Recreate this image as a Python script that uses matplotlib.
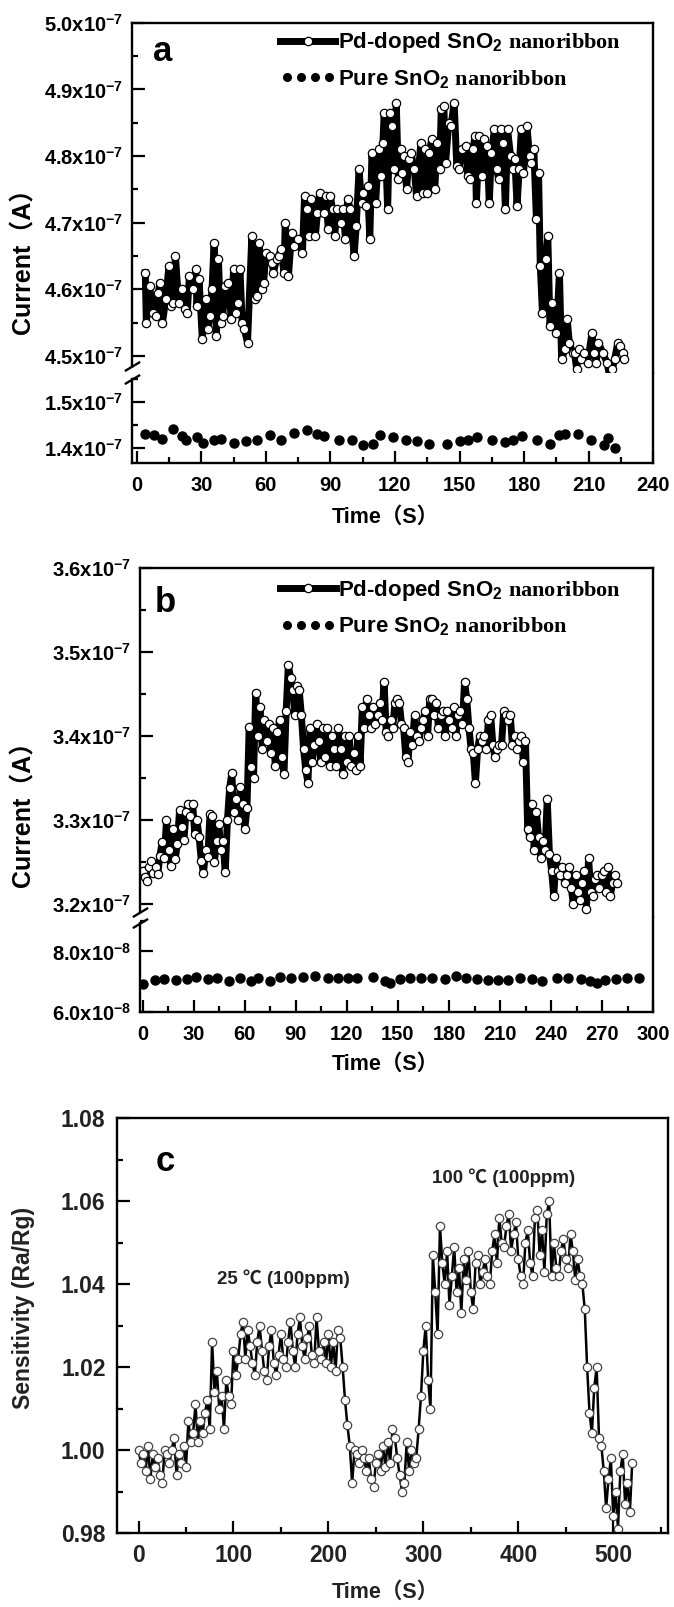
import numpy as np
import matplotlib.pyplot as plt
from matplotlib.ticker import MultipleLocator, FuncFormatter
from matplotlib.legend_handler import HandlerLine2D

plt.rcParams["font.family"] = ["Liberation Sans", "Noto Sans CJK SC"]
plt.rcParams["font.weight"] = "bold"
plt.rcParams["mathtext.fontset"] = "custom"
plt.rcParams["mathtext.rm"] = "Liberation Sans:bold"
plt.rcParams["mathtext.bf"] = "Liberation Sans:bold"
plt.rcParams["mathtext.it"] = "Liberation Serif:bold"

# ---------------- data (current in units of 1e-7 A, or 1e-8 A for pure b) ----------------
# panel a : Pd-doped SnO2 nanoribbon
a_pd_time = [4.0, 4.5, 6.0, 7.5, 9.0, 10.0, 11.0, 12.0, 13.5, 15.0, 16.0, 17.0, 18.0, 19.5, 21.0,
             22.5, 23.5, 24.5, 26.0, 27.5, 28.0, 29.0, 30.5, 32.0, 33.0, 34.0, 35.0, 36.0, 37.0,
             38.0, 39.0, 40.0, 41.0, 42.5, 44.0, 45.0, 46.0, 47.0, 48.0, 49.0, 50.0, 51.5, 53.5,
             55.0, 56.0, 57.0, 58.0, 59.0, 60.0, 62.0, 63.0, 63.5, 65.0, 66.0, 67.0, 68.5, 69.0,
             70.5, 72.0, 73.0, 75.0, 77.0, 78.0, 79.0, 80.0, 81.0, 83.0, 84.0, 85.0, 87.0, 88.0,
             89.0, 90.0, 91.0, 92.0, 93.0, 95.0, 96.0, 97.0, 98.0, 99.3, 101.0, 102.0, 103.3,
             104.5, 105.3, 106.5, 107.3, 108.3, 109.3, 111.0, 112.5, 113.4, 114.4, 115.0, 116.6,
             117.6, 118.4, 119.4, 120.6, 121.6, 122.6, 123.4, 124.4, 125.4, 126.4, 127.4, 129.0,
             130.0, 132.0, 133.0, 134.0, 135.0, 136.0, 137.0, 138.5, 139.5, 140.7, 141.5, 142.7,
             143.5, 145.0, 146.0, 147.5, 148.7, 149.7, 151.0, 152.8, 153.8, 154.8, 156.2, 157.2,
             157.8, 159.2, 160.2, 161.2, 162.8, 163.8, 164.8, 166.2, 167.2, 168.2, 169.2, 170.2,
             171.3, 172.3, 173.7, 174.7, 175.7, 176.7, 177.7, 178.7, 179.7, 181.3, 182.5, 183.3,
             184.5, 185.7, 186.7, 187.5, 188.5, 190.0, 191.0, 192.0, 193.0, 195.0, 196.4, 197.4,
             199.0, 200.0, 201.0, 202.5, 203.4, 204.4, 205.5, 206.5, 208.0, 209.5, 211.5, 212.5,
             213.5, 214.5, 216.5, 218.5, 220.0, 221.0, 222.0, 223.5, 224.5, 226.0, 226.5]
a_pd_curr = [4.625, 4.550, 4.605, 4.565, 4.560, 4.595, 4.610, 4.550, 4.585, 4.635, 4.575, 4.580,
             4.650, 4.580, 4.600, 4.570, 4.565, 4.620, 4.600, 4.630, 4.575, 4.615, 4.525, 4.585,
             4.540, 4.560, 4.600, 4.670, 4.530, 4.645, 4.550, 4.560, 4.605, 4.610, 4.555, 4.630,
             4.565, 4.580, 4.630, 4.550, 4.540, 4.520, 4.680, 4.585, 4.590, 4.670, 4.600, 4.610,
             4.655, 4.650, 4.640, 4.625, 4.645, 4.650, 4.660, 4.625, 4.700, 4.620, 4.685, 4.665,
             4.675, 4.655, 4.740, 4.720, 4.680, 4.735, 4.680, 4.715, 4.745, 4.715, 4.740, 4.690,
             4.740, 4.720, 4.680, 4.720, 4.700, 4.720, 4.675, 4.735, 4.720, 4.650, 4.695, 4.780,
             4.730, 4.745, 4.725, 4.755, 4.675, 4.805, 4.730, 4.810, 4.770, 4.820, 4.865, 4.720,
             4.865, 4.845, 4.780, 4.880, 4.765, 4.810, 4.775, 4.800, 4.750, 4.795, 4.805, 4.780,
             4.740, 4.820, 4.745, 4.810, 4.745, 4.805, 4.825, 4.750, 4.820, 4.780, 4.870, 4.875,
             4.790, 4.850, 4.845, 4.880, 4.785, 4.780, 4.810, 4.815, 4.770, 4.765, 4.810, 4.830,
             4.730, 4.830, 4.770, 4.825, 4.815, 4.730, 4.805, 4.840, 4.780, 4.765, 4.840, 4.820,
             4.720, 4.840, 4.800, 4.780, 4.795, 4.725, 4.780, 4.840, 4.775, 4.845, 4.800, 4.790,
             4.810, 4.705, 4.775, 4.635, 4.565, 4.645, 4.680, 4.545, 4.580, 4.535, 4.625, 4.495,
             4.510, 4.555, 4.520, 4.505, 4.505, 4.480, 4.510, 4.495, 4.505, 4.490, 4.535, 4.505,
             4.490, 4.520, 4.505, 4.490, 4.465, 4.480, 4.495, 4.520, 4.515, 4.505, 4.495]

# panel a : pure SnO2 nanoribbon
a_pure_time = [4, 8, 12, 17, 21, 23, 28, 31, 36, 39, 45, 51, 56, 62, 67, 73, 79, 84, 87, 94, 100,
               105, 110, 113, 119, 125, 130, 136, 144, 150, 154, 158, 165, 171, 175, 179, 186,
               192, 196, 199, 205, 211, 217, 219, 222]
a_pure_curr = [1.431, 1.430, 1.420, 1.441, 1.426, 1.419, 1.425, 1.411, 1.418, 1.421, 1.411, 1.416,
               1.417, 1.428, 1.418, 1.434, 1.439, 1.432, 1.427, 1.418, 1.417, 1.408, 1.409, 1.429,
               1.425, 1.417, 1.416, 1.409, 1.409, 1.416, 1.418, 1.424, 1.418, 1.413, 1.418, 1.427,
               1.418, 1.410, 1.428, 1.432, 1.431, 1.418, 1.408, 1.422, 1.401]

# panel b : Pd-doped SnO2 nanoribbon (sampled evenly from 0 to 278.6 s)
b_pd_curr = [3.240, 3.232, 3.228, 3.244, 3.251, 3.237, 3.245, 3.236, 3.258, 3.274,
             3.255, 3.300, 3.265, 3.246, 3.290, 3.254, 3.272, 3.312, 3.292, 3.276,
             3.310, 3.320, 3.305, 3.320, 3.284, 3.300, 3.280, 3.252, 3.237, 3.265,
             3.256, 3.308, 3.305, 3.250, 3.275, 3.296, 3.265, 3.275, 3.238, 3.300,
             3.338, 3.356, 3.310, 3.325, 3.300, 3.340, 3.320, 3.290, 3.315, 3.411,
             3.364, 3.350, 3.452, 3.400, 3.435, 3.385, 3.420, 3.395, 3.415, 3.380,
             3.410, 3.365, 3.405, 3.420, 3.375, 3.355, 3.430, 3.485, 3.470, 3.455,
             3.425, 3.460, 3.455, 3.425, 3.385, 3.360, 3.345, 3.410, 3.370, 3.390,
             3.415, 3.395, 3.370, 3.410, 3.375, 3.410, 3.365, 3.400, 3.385, 3.365,
             3.410, 3.385, 3.355, 3.400, 3.370, 3.400, 3.365, 3.380, 3.360, 3.400,
             3.365, 3.435, 3.410, 3.445, 3.425, 3.410, 3.435, 3.415, 3.425, 3.440,
             3.420, 3.465, 3.405, 3.400, 3.420, 3.410, 3.440, 3.445, 3.440, 3.415,
             3.410, 3.375, 3.370, 3.405, 3.390, 3.425, 3.400, 3.395, 3.410, 3.420,
             3.430, 3.400, 3.445, 3.445, 3.425, 3.440, 3.410, 3.425, 3.430, 3.400,
             3.430, 3.420, 3.410, 3.435, 3.400, 3.425, 3.430, 3.415, 3.465, 3.445,
             3.410, 3.385, 3.380, 3.345, 3.385, 3.400, 3.395, 3.400, 3.385, 3.420,
             3.425, 3.390, 3.375, 3.385, 3.390, 3.390, 3.430, 3.425, 3.420, 3.425,
             3.390, 3.400, 3.385, 3.395, 3.400, 3.370, 3.395, 3.290, 3.280, 3.320,
             3.265, 3.310, 3.280, 3.255, 3.275, 3.265, 3.325, 3.260, 3.240, 3.210,
             3.255, 3.240, 3.235, 3.245, 3.225, 3.235, 3.245, 3.220, 3.200, 3.235,
             3.215, 3.205, 3.225, 3.240, 3.195, 3.255, 3.215, 3.210, 3.230, 3.235,
             3.220, 3.235, 3.240, 3.215, 3.245, 3.210, 3.225, 3.235, 3.225]
b_pd_time = np.linspace(0, 278.6, len(b_pd_curr))

# panel b : pure SnO2 nanoribbon (1e-8 A)
b_pure_time = [0.5, 7.6, 12.7, 19.6, 25.9, 31.3, 38.2, 43.8, 51, 57.4, 63.7, 67.6, 74.7, 80.8,
               87.4, 94.3, 101.2, 108.8, 114.7, 120.6, 126.2, 135.4, 142.2, 145.3, 151.2, 157.3,
               163.4, 170, 177.6, 184.2, 189.9, 196.2, 203.1, 208.5, 214.9, 221.8, 228.7, 234.6,
               243.5, 249.9, 257.5, 262.6, 266.9, 271.5, 277.9, 284.8, 291.4]
b_pure_curr = [6.94, 7.05, 7.09, 7.05, 7.09, 7.16, 7.09, 7.11, 7.02, 7.13, 7.02, 7.11, 7.02, 7.16,
               7.11, 7.16, 7.19, 7.14, 7.14, 7.14, 7.13, 7.16, 7.03, 6.96, 7.09, 7.11, 7.11, 7.11,
               7.09, 7.19, 7.11, 7.09, 7.05, 7.05, 7.05, 7.13, 7.09, 7.02, 7.11, 7.14, 7.09, 7.02,
               6.96, 7.05, 7.09, 7.11, 7.11]

# panel c : sensitivity Ra/Rg (sampled evenly from 0 to 520 s)
c_sens = [1.000, 0.997, 0.999, 0.995, 1.001, 0.993, 0.999, 0.996, 0.998, 0.994, 0.992, 1.000,
          0.999, 0.997, 1.000, 1.003, 0.994, 0.999, 0.997, 1.001, 0.996, 1.007, 1.002, 1.004,
          1.011, 1.002, 1.007, 1.004, 1.009, 1.012, 1.005, 1.026, 1.014, 1.019, 1.010, 1.013,
          1.005, 1.017, 1.013, 1.011, 1.024, 1.018, 1.022, 1.028, 1.031, 1.022, 1.029, 1.025,
          1.021, 1.018, 1.026, 1.030, 1.024, 1.019, 1.017, 1.025, 1.029, 1.021, 1.018, 1.023,
          1.028, 1.022, 1.020, 1.026, 1.031, 1.024, 1.020, 1.028, 1.032, 1.025, 1.022, 1.027,
          1.030, 1.023, 1.021, 1.032, 1.024, 1.022, 1.026, 1.021, 1.028, 1.020, 1.026, 1.019,
          1.029, 1.027, 1.020, 1.012, 1.006, 1.001, 0.992, 1.000, 0.999, 0.997, 1.000, 0.998,
          0.995, 0.998, 0.993, 0.991, 0.997, 0.999, 0.995, 1.001, 0.996, 1.002, 0.997, 1.005,
          1.003, 0.998, 0.994, 0.990, 0.992, 1.002, 0.995, 1.000, 0.997, 0.998, 1.005, 1.013,
          1.024, 1.030, 1.017, 1.010, 1.047, 1.038, 1.028, 1.054, 1.045, 1.040, 1.048, 1.035,
          1.042, 1.049, 1.038, 1.044, 1.033, 1.046, 1.041, 1.048, 1.038, 1.034, 1.045, 1.047,
          1.040, 1.043, 1.046, 1.042, 1.040, 1.048, 1.052, 1.045, 1.056, 1.050, 1.049, 1.054,
          1.057, 1.048, 1.052, 1.055, 1.046, 1.042, 1.040, 1.050, 1.053, 1.045, 1.042, 1.056,
          1.058, 1.047, 1.053, 1.043, 1.057, 1.060, 1.042, 1.050, 1.044, 1.042, 1.048, 1.051,
          1.046, 1.044, 1.052, 1.048, 1.041, 1.046, 1.042, 1.040, 1.034, 1.020, 1.009, 1.004,
          1.015, 1.020, 1.003, 1.001, 0.995, 0.986, 0.993, 0.998, 0.984, 0.990, 0.981, 0.995,
          0.999, 0.987, 0.992, 0.985, 0.997]
c_time = np.linspace(0, 520, len(c_sens))

pd_label = r"Pd-doped SnO$_\mathbf{2}$ $\mathit{nanoribbon}$"
pure_label = r"Pure SnO$_\mathbf{2}$ $\mathit{nanoribbon}$"

# ---------------- layout helpers ----------------
W, H = 674, 1607
fig = plt.figure(figsize=(W / 100, H / 100), dpi=100)


def rect(left, top, right, bottom):
    return [left / W, 1 - bottom / H, (right - left) / W, (bottom - top) / H]


def style(ax, size=14.5):
    for s in ax.spines.values():
        s.set_linewidth(1.7)
    ax.tick_params(which="both", direction="in", width=1.6, labelsize=size,
                   top=False, right=False, pad=6)
    ax.tick_params(which="major", length=9)
    ax.tick_params(which="minor", length=4.5)


def sci(exp):
    return FuncFormatter(lambda v, pos: r"$\mathbf{%.1fx10^{%d}}$" % (v, exp))


def broken_pair(up, lo, up_lim, lo_lim, up_cut, lo_cut, xlim, exp_lo):
    style(up)
    style(lo)
    up.set_ylim(*up_lim)
    lo.set_ylim(*lo_lim)
    up.set_xlim(*xlim)
    lo.set_xlim(*xlim)
    up.spines["bottom"].set_visible(False)
    lo.spines["top"].set_visible(False)
    up.spines["left"].set_bounds(up_cut, up_lim[1])
    lo.spines["left"].set_bounds(lo_lim[0], lo_cut)
    up.tick_params(bottom=False, labelbottom=False)
    up.yaxis.set_major_locator(MultipleLocator(0.1))
    up.yaxis.set_minor_locator(MultipleLocator(0.05))
    up.yaxis.set_major_formatter(sci(-7))
    lo.yaxis.set_major_formatter(sci(exp_lo))
    lo.xaxis.set_major_locator(MultipleLocator(30))
    lo.xaxis.set_minor_locator(MultipleLocator(15))
    lo.tick_params(axis="x", pad=9)
    # break marks on the left spine
    kw = dict(marker=[(-1, -0.6), (1, 0.6)], markersize=11, linestyle="none",
              color="k", mec="k", mew=1.7, clip_on=False)
    yu = (up_cut - up_lim[0]) / (up_lim[1] - up_lim[0])
    yl = (lo_cut - lo_lim[0]) / (lo_lim[1] - lo_lim[0])
    up.plot([0], [yu], transform=up.transAxes, **kw)
    lo.plot([0], [yl], transform=lo.transAxes, **kw)


def small_dots(handle, orig):
    handle.update_from(orig)
    handle.set_markersize(5.5)


def add_legend(up, pd_line, pure_line, x, y):
    up.legend([pd_line, pure_line], [pd_label, pure_label],
              handler_map={pure_line: HandlerLine2D(numpoints=4, update_func=small_dots)},
              loc="upper left", bbox_to_anchor=(x, y), frameon=False,
              handlelength=2.5, handletextpad=0.1, labelspacing=0.55,
              borderpad=0, borderaxespad=0, fontsize=16)


pd_style = dict(color="black", lw=5, marker="o", ms=6, mfc="white", mec="black", mew=0.9)
pure_style = dict(ls="none", marker="o", ms=6.5, color="black")

# --------- PANEL A ---------
a_up = fig.add_axes(rect(131.7, 22.7, 653.3, 373))
a_lo = fig.add_axes(rect(131.7, 373, 653.3, 463.3))
broken_pair(a_up, a_lo, (4.4745, 5.0), (1.3674, 1.5637), 4.485, 1.5507, (-2.3, 240), -7)
a_lo.yaxis.set_major_locator(MultipleLocator(0.1))
a_lo.yaxis.set_minor_locator(MultipleLocator(0.05))
l1, = a_up.plot(a_pd_time, a_pd_curr, **pd_style)
l2, = a_lo.plot(a_pure_time, a_pure_curr, **pure_style)
add_legend(a_up, l1, l2, 0.284, 0.978)
a_up.text(0.06, 0.8915, "a", transform=a_up.transAxes, fontsize=25, ha="center", va="baseline")
fig.text(24 / W, 1 - 255 / H, "Current（A）", rotation=90, ha="center", va="center", fontsize=18)
fig.text(385 / W, 1 - 517 / H, "Time（S）", ha="center", va="center", fontsize=15.5)

# --------- PANEL B ---------
b_up = fig.add_axes(rect(140, 568.3, 653.3, 917))
b_lo = fig.add_axes(rect(140, 917, 653.3, 1012))
broken_pair(b_up, b_lo, (3.1849, 3.6), (6.0, 9.14), 3.1908, 8.94, (-1.5, 300), -8)
b_lo.yaxis.set_major_locator(MultipleLocator(2.0))
b_lo.yaxis.set_minor_locator(MultipleLocator(1.0))
l1, = b_up.plot(b_pd_time, b_pd_curr, **pd_style)
l2, = b_lo.plot(b_pure_time, b_pure_curr, **pure_style)
add_legend(b_up, l1, l2, 0.273, 0.972)
b_up.text(0.0487, 0.8755, "b", transform=b_up.transAxes, fontsize=25, ha="center", va="baseline")
fig.text(24 / W, 1 - 808 / H, "Current（A）", rotation=90, ha="center", va="center", fontsize=18)
fig.text(385 / W, 1 - 1064 / H, "Time（S）", ha="center", va="center", fontsize=15.5)

# --------- PANEL C ---------
ax_c = fig.add_axes(rect(116.7, 1118.3, 668.3, 1533))
style(ax_c, size=16.5)
ax_c.tick_params(labelcolor="#222222", pad=8)
ax_c.plot(c_time, c_sens, color="black", lw=1.8, marker="o", ms=6, mfc="white", mec="#444444", mew=0.9)
ax_c.set_xlim(-23, 558)
ax_c.set_ylim(0.98, 1.08)
ax_c.xaxis.set_major_locator(MultipleLocator(100))
ax_c.xaxis.set_minor_locator(MultipleLocator(50))
ax_c.yaxis.set_major_locator(MultipleLocator(0.02))
ax_c.yaxis.set_minor_locator(MultipleLocator(0.01))
ax_c.yaxis.set_major_formatter(FuncFormatter(lambda v, p: "%.2f" % v))
ax_c.text(0.0876, 0.8736, "c", transform=ax_c.transAxes, fontsize=25, ha="center", va="baseline")
ax_c.text(153, 1.0413, "25 ℃ (100ppm)", ha="center", va="center", fontsize=13.5, color="#222222")
ax_c.text(385, 1.0657, "100 ℃ (100ppm)", ha="center", va="center", fontsize=13.5, color="#222222")
fig.text(24 / W, 1 - 1308 / H, "Sensitivity (Ra/Rg)", rotation=90, ha="center", va="center",
         fontsize=16.5, color="#222222")
fig.text(385 / W, 1 - 1592 / H, "Time（S）", ha="center", va="center", fontsize=15.5, color="#222222")

fig.savefig("out.png", dpi=100)
plt.close()
